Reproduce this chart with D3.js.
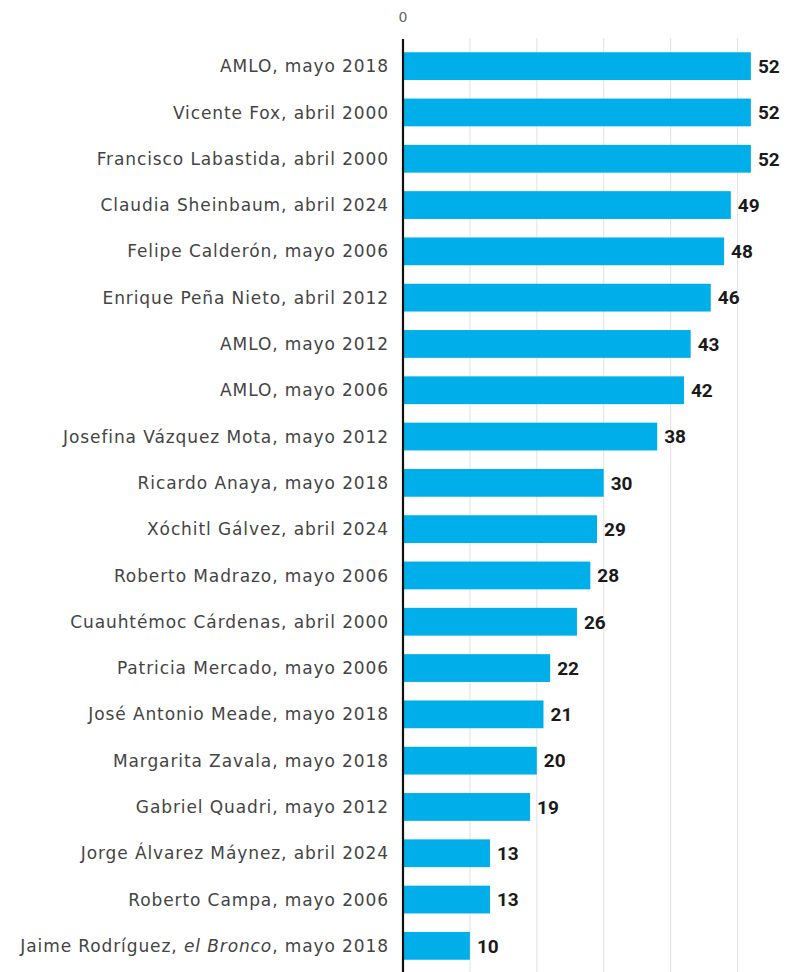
<!DOCTYPE html>
<meta charset="utf-8">
<style>
  body { margin: 0; background: #fff; }
  svg { display: block; }
</style>
<svg width="787" height="972"></svg>
<script src="https://d3js.org/d3.v7.min.js"></script>
<script>
    // candidatos y % de intención de voto
    const names = [
        "AMLO, mayo 2018",
        "Vicente Fox, abril 2000",
        "Francisco Labastida, abril 2000",
        "Claudia Sheinbaum, abril 2024",
        "Felipe Calderón, mayo 2006",
        "Enrique Peña Nieto, abril 2012",
        "AMLO, mayo 2012",
        "AMLO, mayo 2006",
        "Josefina Vázquez Mota, mayo 2012",
        "Ricardo Anaya, mayo 2018",
        "Xóchitl Gálvez, abril 2024",
        "Roberto Madrazo, mayo 2006",
        "Cuauhtémoc Cárdenas, abril 2000",
        "Patricia Mercado, mayo 2006",
        "José Antonio Meade, mayo 2018",
        "Margarita Zavala, mayo 2018",
        "Gabriel Quadri, mayo 2012",
        "Jorge Álvarez Máynez, abril 2024",
        "Roberto Campa, mayo 2006",
        "Jaime Rodríguez, el Bronco, mayo 2018"
    ]
    const values = [52, 52, 52, 49, 48, 46, 43, 42, 38, 30, 29, 28, 26, 22, 21, 20, 19, 13, 13, 10]
    const gridTicks = [10, 20, 30, 40, 50]

    const svg = d3.select("svg")
    const x0 = 403, yTop = 43, yBottom = 969

    var x = d3.scaleLinear().domain([0, 10]).range([x0, x0 + 66.9])
    var y = d3.scaleBand().domain(names).range([yTop, yBottom]).paddingInner(0.4).paddingOuter(0.2)

    // gridlines
    svg.append("g").selectAll("line")
        .data(gridTicks)
        .join("line")
        .attr("x1", d => x(d)).attr("x2", d => x(d))
        .attr("y1", 38).attr("y2", 972)
        .attr("stroke", "#e6e6e6")
        .attr("stroke-width", 1.2)

    svg.append("text")
        .attr("x", x(0)).attr("y", 22)
        .attr("text-anchor", "middle")
        .attr("font-family", "'DejaVu Sans', sans-serif")
        .attr("font-size", 14)
        .attr("fill", "#666")
        .text("0")

    svg.append("g").selectAll("rect")
        .data(values)
        .join("rect")
        .attr("x", x(0))
        .attr("y", (d, i) => y(names[i]))
        .attr("width", d => x(d) - x(0))
        .attr("height", y.bandwidth())
        .attr("fill", "#00aeea")

    // axis line
    svg.append("line")
        .attr("x1", x0).attr("x2", x0)
        .attr("y1", 39).attr("y2", 972)
        .attr("stroke", "#111")
        .attr("stroke-width", 2.2)

    svg.append("g").selectAll("text")
        .data(values)
        .join("text")
        .attr("x", d => x(d) + 7)
        .attr("y", (d, i) => y(names[i]) + y.bandwidth() / 2)
        .attr("dy", "0.36em")
        .attr("font-family", "Roboto, sans-serif")
        .attr("font-weight", "bold")
        .attr("font-size", 19)
        .attr("fill", "#1a1a1a")
        .text(d => d)

    var labels = svg.append("g").selectAll("text")
        .data(names)
        .join("text")
        .attr("x", 389)
        .attr("y", d => y(d) + y.bandwidth() / 2)
        .attr("dy", "0.36em")
        .attr("text-anchor", "end")
        .attr("font-family", "'DejaVu Sans', sans-serif")
        .attr("font-size", 17)
        .attr("letter-spacing", 0.9)
        .attr("fill", "#444")

    labels.each(function (d) {
        const t = d3.select(this)
        if (d.indexOf("el Bronco") >= 0) {
            t.append("tspan").text("Jaime Rodríguez, ")
            t.append("tspan").attr("font-style", "italic").text("el Bronco")
            t.append("tspan").text(", mayo 2018")
        } else {
            t.text(d)
        }
    })
</script>
